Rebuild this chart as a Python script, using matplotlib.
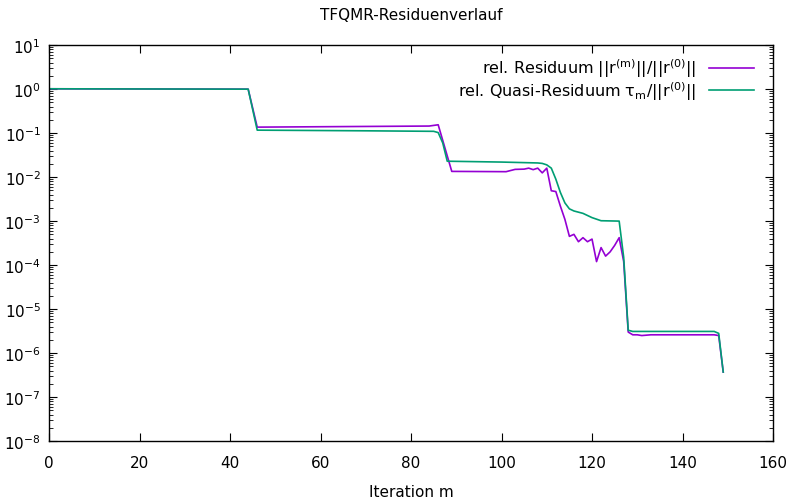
import numpy as np
import matplotlib
matplotlib.use("Agg")
import matplotlib.pyplot as plt
from matplotlib.ticker import LogLocator, MultipleLocator, NullFormatter

# relatives Residuum ||r^(m)|| / ||r^(0)||  (Ecken des Verlaufs, aus dem Bild gelesen)
it_res = [0, 44, 46, 84, 86, 89, 101, 103, 105, 106, 107, 108, 109, 110, 111,
          112, 113, 114, 115, 116, 117, 118, 119, 120, 121, 122, 123, 124, 125,
          126, 127, 128, 129, 130, 131, 133, 147, 148, 149]
res = [1.02, 1.0, 0.137, 0.145, 0.155, 0.0135, 0.0133, 0.0150, 0.0152, 0.016,
       0.0148, 0.016, 0.0125, 0.016, 0.0049, 0.0047, 0.0022, 0.0011, 0.00045,
       0.00050, 0.00034, 0.00042, 0.00034, 0.00039, 0.00012, 0.00025, 0.00016,
       0.00020, 0.00028, 0.00042, 0.00012, 3.0e-6, 2.6e-6, 2.6e-6, 2.5e-6,
       2.6e-6, 2.6e-6, 2.5e-6, 3.7e-7]

# relatives Quasi-Residuum tau_m / ||r^(0)||
it_tau = [0, 44, 46, 70, 85, 86, 87, 88, 100, 108, 109, 110, 111, 112, 113, 114,
          115, 116, 118, 120, 122, 126, 127, 128, 129, 147, 148, 149]
tau = [1.02, 1.0, 0.117, 0.113, 0.110, 0.103, 0.06, 0.023, 0.022, 0.021, 0.0205,
       0.019, 0.016, 0.009, 0.0045, 0.0026, 0.0019, 0.0017, 0.0015, 0.0012,
       0.00102, 0.001, 0.00015, 3.3e-6, 3.1e-6, 3.1e-6, 2.8e-6, 3.7e-7]

fig = plt.figure(figsize=(7.92, 5.02), dpi=100)
ax = fig.add_axes([0.062, 0.1195, 0.914, 0.7885])

ax.plot(it_res, res, color="#9400d3", lw=1.2,
        label=r"rel. Residuum ||r$^{\mathrm{(m)}}$||/||r$^{\mathrm{(0)}}$||")
ax.plot(it_tau, tau, color="#009e73", lw=1.2,
        label=r"rel. Quasi-Residuum τ$_{\mathrm{m}}$/||r$^{\mathrm{(0)}}$||")

ax.set_yscale("log")
ax.set_xlim(0, 160)
ax.set_ylim(1e-8, 1e1)
ax.xaxis.set_major_locator(MultipleLocator(20))
ax.yaxis.set_major_locator(LogLocator(base=10, numticks=20))
ax.yaxis.set_minor_locator(LogLocator(base=10, subs=np.arange(2, 10), numticks=20))
ax.yaxis.set_minor_formatter(NullFormatter())
ax.tick_params(which="both", direction="in", top=True, right=True, labelsize=11)
ax.tick_params(which="major", length=6)
ax.tick_params(which="minor", length=3)
ax.tick_params(axis="x", pad=10)
ax.tick_params(axis="y", pad=6)
for s in ax.spines.values():
    s.set_linewidth(1.0)

ax.set_title("TFQMR-Residuenverlauf", fontsize=11, pad=19)
ax.set_xlabel("Iteration m", fontsize=11, labelpad=10)
ax.legend(loc="upper right", frameon=False, markerfirst=False, fontsize=11.5,
          handlelength=2.8, borderaxespad=0.8, labelspacing=0.0,
          bbox_to_anchor=(1.0, 1.02))

fig.savefig("out.png", dpi=100)
